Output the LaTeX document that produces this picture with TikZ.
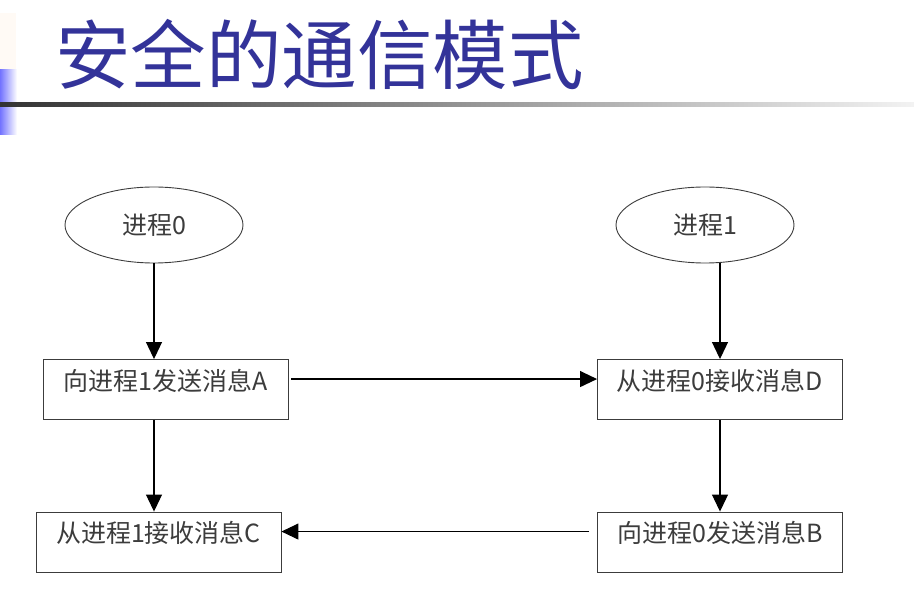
\documentclass[tikz,border=0pt]{standalone}
\usepackage{fontspec}
\newfontfamily\cjk{Noto Sans CJK SC}
\usetikzlibrary{shapes.geometric,arrows.meta}
\definecolor{titleblue}{RGB}{51,51,153}
\definecolor{inkgray}{RGB}{60,60,60}
\begin{document}
\begin{tikzpicture}[x=1pt,y=-1pt,
  proc/.style={ellipse,draw=inkgray,line width=.9pt,minimum width=178pt,minimum height=76pt,inner sep=0pt,text=inkgray,font=\cjk\fontsize{25}{25}\selectfont},
  msgbox/.style={rectangle,draw=inkgray,line width=.9pt,minimum width=245pt,inner xsep=0pt,inner ysep=0pt,text height=31pt,text depth=29pt,text=inkgray,font=\cjk\fontsize{25}{25}\selectfont},
  flow/.style={-{Triangle[width=16pt,length=17pt]},line width=1.1pt,black}]
  \useasboundingbox (0,0) rectangle (914,601);
  % left bar and title rule
  \fill[orange!4] (0,13) rectangle (16,70);
  \shade[left color=blue!55,right color=white] (0,70) rectangle (17,135);
  \shade[left color=black!80,middle color=black!35,right color=black!5] (0,103) rectangle (914,107);
  \node[anchor=base west,inner sep=0pt,text=titleblue,font=\cjk\fontsize{75.5}{75.5}\selectfont] (title) at (55,84) {安全的通信模式};
  % processes and messages
  \node[proc] (p0) at (154,225) {进程0}; \node[proc] (p1) at (705,225) {进程1};
  \node[msgbox] (a) at (165.5,389.5) {向进程1发送消息A}; \node[msgbox] (d) at (720,389.5) {从进程0接收消息D};
  \node[msgbox] (c) at (158.5,542) {从进程1接收消息C}; \node[msgbox] (b) at (720,542) {向进程0发送消息B};
  \draw[flow] (p0.south) -- (p0.south |- a.north); \draw[flow] (p1.south -| d.north) -- (d.north);
  \draw[flow] (a.south -| p0.south) -- (p0.south |- c.north); \draw[flow] (d.south) -- (b.north);
  \draw[flow,shorten <=3pt] ([yshift=-20pt]a.north east) -- ([yshift=-20pt]d.north west);
  \draw[flow,shorten <=8pt] ([yshift=-20pt]b.north west) -- ([yshift=-20pt]c.north east);
\end{tikzpicture}
\end{document}
